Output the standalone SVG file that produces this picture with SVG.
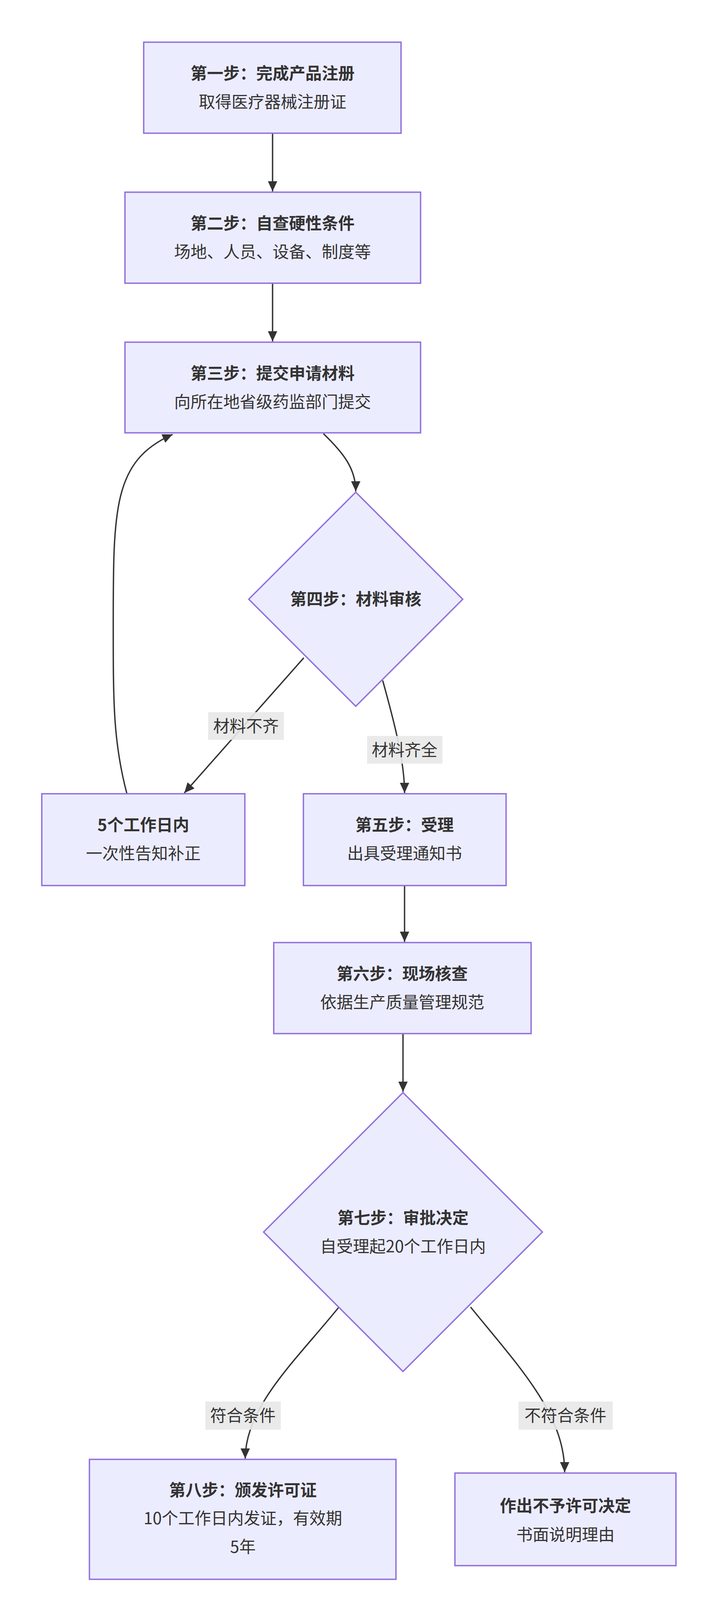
<svg xmlns="http://www.w3.org/2000/svg" width="1831" height="4146" viewBox="0 0 1831 4146">
<style>
.n{fill:#ECECFF;stroke:#9370DB;stroke-width:3.5}
.t{font-family:"Noto Sans CJK SC","Liberation Sans",sans-serif;font-size:42px;fill:#333;text-anchor:middle}
.b{font-weight:bold}
.e{fill:none;stroke:#333;stroke-width:3.5}
.lb{fill:#e8e8e8;opacity:0.9}
</style>
<defs><marker id="a" markerUnits="userSpaceOnUse" markerWidth="30" markerHeight="30" refX="26" refY="12" orient="auto"><path d="M0,0 L26,12 L0,24 Z" fill="#333"/></marker></defs>
<rect width="1831" height="4146" fill="#fff"/>
<g id="edges">
<path class="e" d="M698,341 L698,490" marker-end="url(#a)"/>
<path class="e" d="M698,725 L698,874" marker-end="url(#a)"/>
<path class="e" d="M828,1110 C880,1160 911,1200 911,1258" marker-end="url(#a)"/>
<path class="e" d="M778,1684 L472,2030" marker-end="url(#a)"/>
<path class="e" d="M980,1742 C1010,1850 1036,1950 1036,2030" marker-end="url(#a)"/>
<path class="e" d="M325,2032 C290,1900 290,1800 290,1600 C290,1300 290,1180 442,1112" marker-end="url(#a)"/>
<path class="e" d="M1036,2267 L1036,2411" marker-end="url(#a)"/>
<path class="e" d="M1032,2646 L1032,2795" marker-end="url(#a)"/>
<path class="e" d="M868,3346 C760,3480 628,3600 628,3734" marker-end="url(#a)"/>
<path class="e" d="M1205,3346 C1330,3500 1446,3620 1446,3769" marker-end="url(#a)"/>
<rect class="lb" x="533" y="1823" width="194" height="71"/>
<text class="t" x="630" y="1874">材料不齐</text>
<rect class="lb" x="940" y="1884" width="193" height="71"/>
<text class="t" x="1036" y="1935">材料齐全</text>
<rect class="lb" x="526" y="3588" width="193" height="72"/>
<text class="t" x="622" y="3639">符合条件</text>
<rect class="lb" x="1328" y="3588" width="241" height="72"/>
<text class="t" x="1448" y="3639">不符合条件</text>
</g>
<g id="n1"><rect class="n" x="368" y="108" width="659" height="233"/><text class="t b" x="698" y="203">第一步：完成产品注册</text><text class="t" x="698" y="276">取得医疗器械注册证</text></g>
<g id="n2"><rect class="n" x="320" y="492" width="757" height="233"/><text class="t b" x="698" y="587">第二步：自查硬性条件</text><text class="t" x="698" y="660">场地、人员、设备、制度等</text></g>
<g id="n3"><rect class="n" x="320" y="876" width="757" height="232"/><text class="t b" x="698" y="971">第三步：提交申请材料</text><text class="t" x="698" y="1044">向所在地省级药监部门提交</text></g>
<g id="n4"><path class="n" d="M911,1260 L1185,1534 L911,1808 L637,1534 Z"/><text class="t b" x="911" y="1549">第四步：材料审核</text></g>
<g id="n4a"><rect class="n" x="107" y="2032" width="520" height="235"/><text class="t b" x="367" y="2127">5个工作日内</text><text class="t" x="367" y="2200">一次性告知补正</text></g>
<g id="n5"><rect class="n" x="777" y="2032" width="519" height="235"/><text class="t b" x="1036" y="2127">第五步：受理</text><text class="t" x="1036" y="2200">出具受理通知书</text></g>
<g id="n6"><rect class="n" x="701" y="2413" width="659" height="233"/><text class="t b" x="1030" y="2508">第六步：现场核查</text><text class="t" x="1030" y="2581">依据生产质量管理规范</text></g>
<g id="n7"><path class="n" d="M1032,2797 L1389,3154 L1032,3511 L675,3154 Z"/><text class="t b" x="1032" y="3133">第七步：审批决定</text><text class="t" x="1032" y="3206">自受理起20个工作日内</text></g>
<g id="n8"><rect class="n" x="229" y="3736" width="785" height="307"/><text class="t b" x="622" y="3830">第八步：颁发许可证</text><text class="t" x="622" y="3902">10个工作日内发证，有效期</text><text class="t" x="622" y="3975">5年</text></g>
<g id="n9"><rect class="n" x="1165" y="3771" width="566" height="237"/><text class="t b" x="1448" y="3870">作出不予许可决定</text><text class="t" x="1448" y="3944">书面说明理由</text></g>
</svg>
